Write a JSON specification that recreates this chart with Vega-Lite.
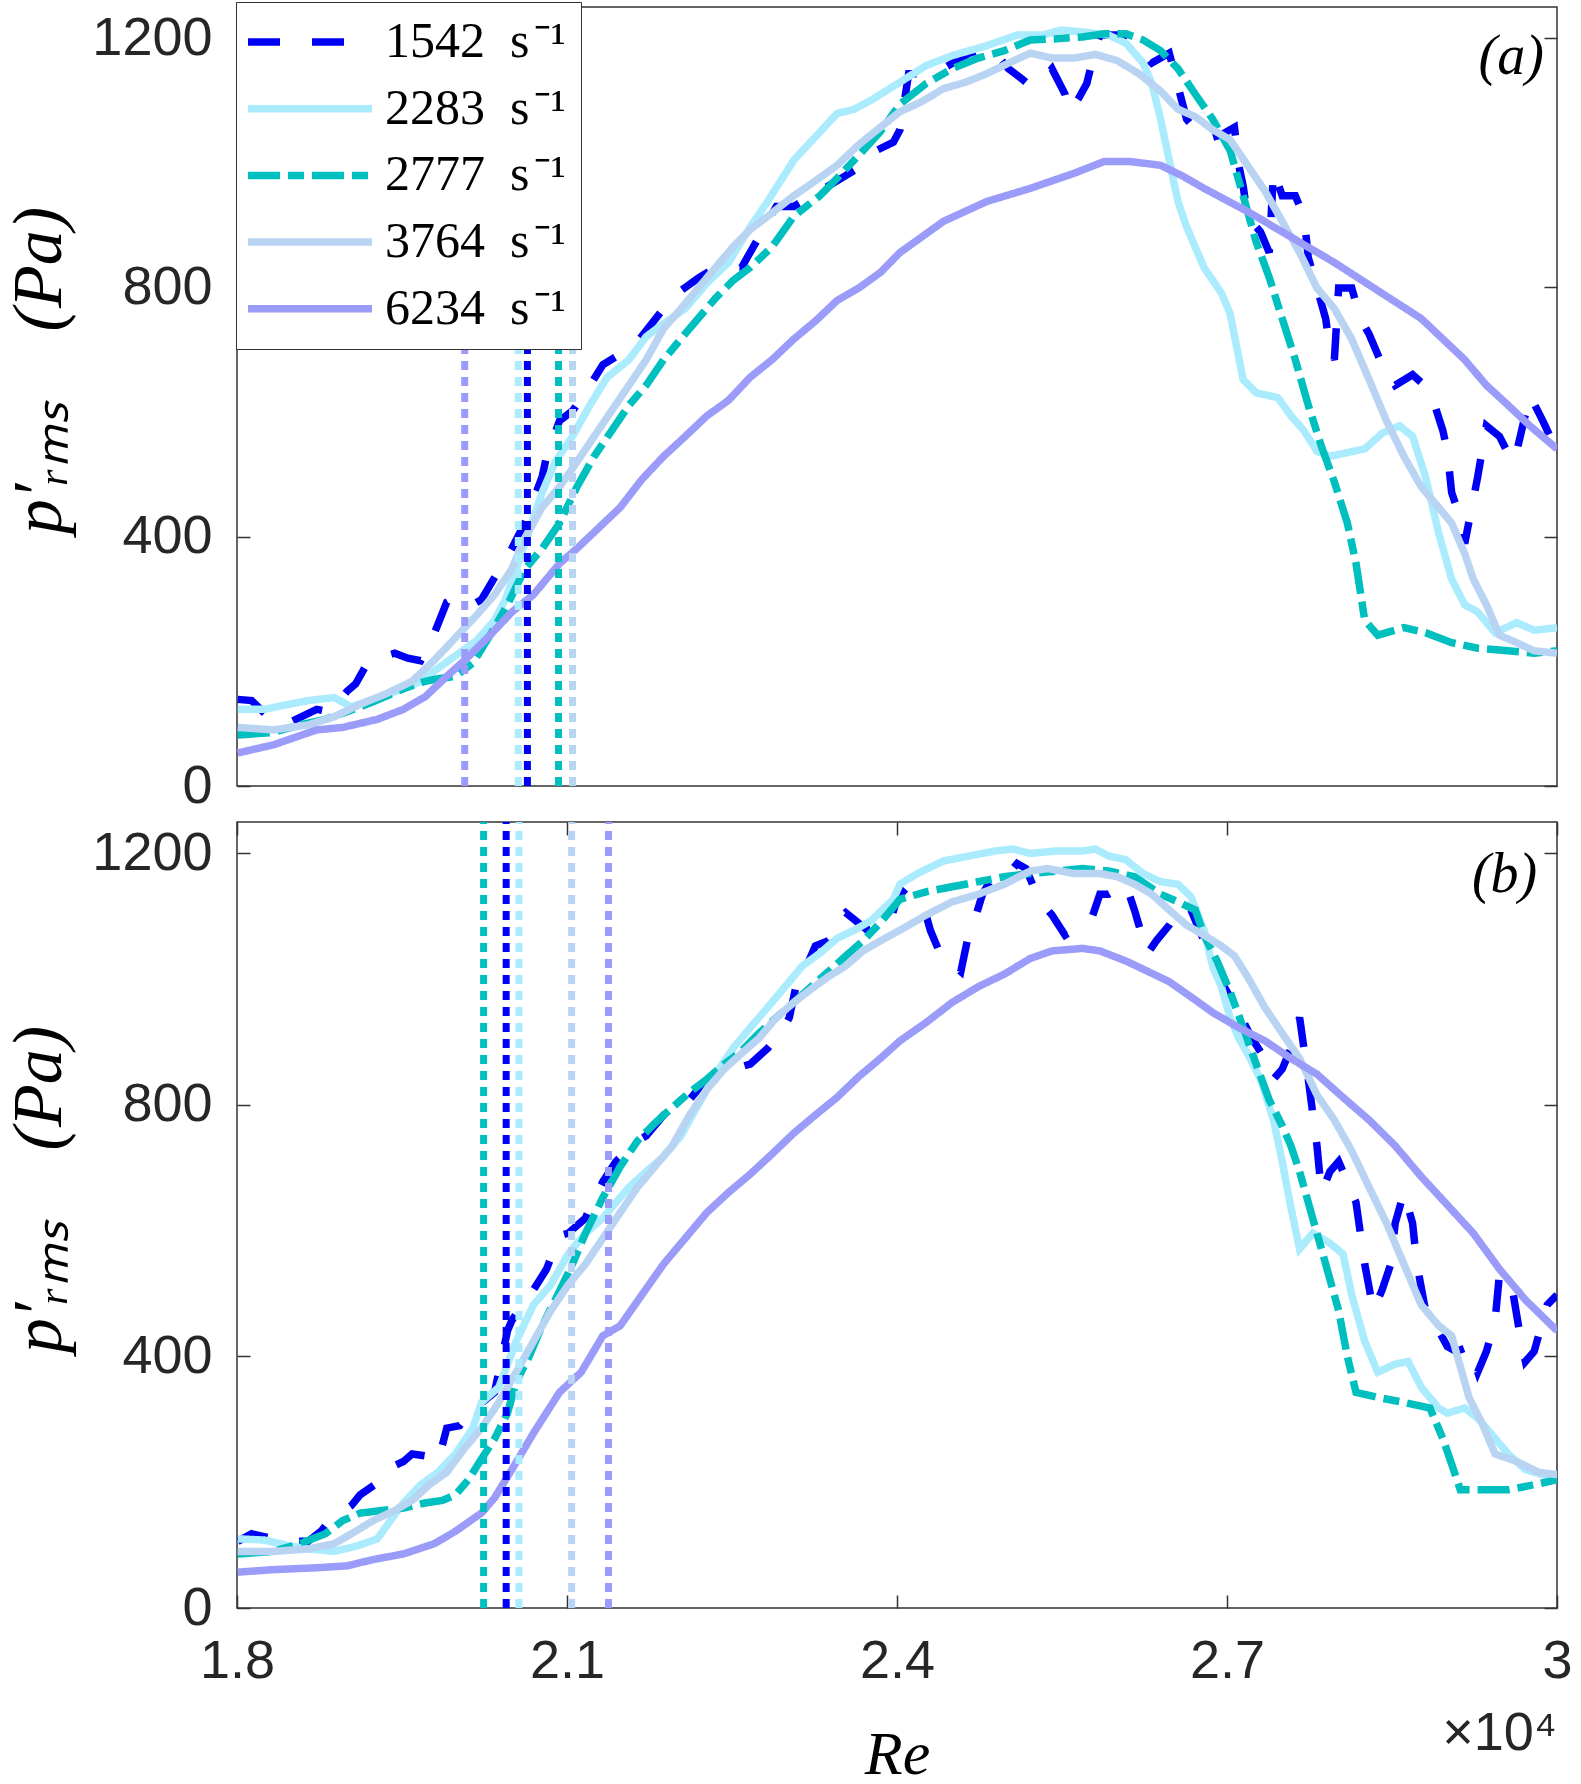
{
  "$schema": "https://vega.github.io/schema/vega-lite/v6.json",
  "background": "white",
  "padding": {"left": 4, "top": 0, "right": 10, "bottom": 0},
  "spacing": 3,
  "config": {
    "view": {"stroke": "#333333", "strokeWidth": 1.5},
    "axis": {
      "labelFont": "Liberation Sans", "labelFontSize": 54, "labelColor": "#262626", "format": "d",
      "tickColor": "#333333", "tickSize": -13, "tickWidth": 1.5, "domain": false, "grid": false,
      "labelFlush": false, "labelOverlap": false,
      "titleFont": "Liberation Serif", "titleFontStyle": "italic", "titleFontWeight": "normal", "titleColor": "black"
    },
    "legend": {
      "symbolType": "M-4,0L4,0", "symbolSize": 961, "symbolStrokeWidth": 7.5, "symbolOffset": 34,
      "labelFont": "Liberation Serif", "labelFontSize": 50, "labelColor": "black", "labelLimit": 0, "labelOffset": 50,
      "fillColor": "white", "strokeColor": "#333333", "padding": 15, "rowPadding": 16.7
    }
  },
  "datasets": {
    "a": [
      {"s":"1542 s⁻¹","Re":18007,"p":139},{"s":"1542 s⁻¹","Re":18133,"p":137},{"s":"1542 s⁻¹","Re":18330,"p":103},{"s":"1542 s⁻¹","Re":18488,"p":103},{"s":"1542 s⁻¹","Re":18724,"p":123},{"s":"1542 s⁻¹","Re":18843,"p":119},{"s":"1542 s⁻¹","Re":19000,"p":152},{"s":"1542 s⁻¹","Re":19079,"p":164},{"s":"1542 s⁻¹","Re":19197,"p":201},{"s":"1542 s⁻¹","Re":19276,"p":205},{"s":"1542 s⁻¹","Re":19434,"p":213},{"s":"1542 s⁻¹","Re":19552,"p":205},{"s":"1542 s⁻¹","Re":19670,"p":201},{"s":"1542 s⁻¹","Re":19749,"p":225},{"s":"1542 s⁻¹","Re":19907,"p":295},{"s":"1542 s⁻¹","Re":19986,"p":303},{"s":"1542 s⁻¹","Re":20144,"p":291},{"s":"1542 s⁻¹","Re":20222,"p":299},{"s":"1542 s⁻¹","Re":20498,"p":381},{"s":"1542 s⁻¹","Re":20617,"p":422},{"s":"1542 s⁻¹","Re":20774,"p":496},{"s":"1542 s⁻¹","Re":20814,"p":529},{"s":"1542 s⁻¹","Re":20932,"p":586},{"s":"1542 s⁻¹","Re":21050,"p":602},{"s":"1542 s⁻¹","Re":21168,"p":631},{"s":"1542 s⁻¹","Re":21326,"p":676},{"s":"1542 s⁻¹","Re":21484,"p":693},{"s":"1542 s⁻¹","Re":21641,"p":713},{"s":"1542 s⁻¹","Re":21878,"p":766},{"s":"1542 s⁻¹","Re":22036,"p":795},{"s":"1542 s⁻¹","Re":22193,"p":815},{"s":"1542 s⁻¹","Re":22351,"p":832},{"s":"1542 s⁻¹","Re":22587,"p":832},{"s":"1542 s⁻¹","Re":22745,"p":881},{"s":"1542 s⁻¹","Re":22903,"p":930},{"s":"1542 s⁻¹","Re":23061,"p":930},{"s":"1542 s⁻¹","Re":23258,"p":951},{"s":"1542 s⁻¹","Re":23455,"p":971},{"s":"1542 s⁻¹","Re":23612,"p":988},{"s":"1542 s⁻¹","Re":23770,"p":1016},{"s":"1542 s⁻¹","Re":23967,"p":1033},{"s":"1542 s⁻¹","Re":24027,"p":1053},{"s":"1542 s⁻¹","Re":24106,"p":1143},{"s":"1542 s⁻¹","Re":24264,"p":1143},{"s":"1542 s⁻¹","Re":24422,"p":1151},{"s":"1542 s⁻¹","Re":24580,"p":1168},{"s":"1542 s⁻¹","Re":24659,"p":1176},{"s":"1542 s⁻¹","Re":24817,"p":1184},{"s":"1542 s⁻¹","Re":24896,"p":1176},{"s":"1542 s⁻¹","Re":25014,"p":1151},{"s":"1542 s⁻¹","Re":25133,"p":1135},{"s":"1542 s⁻¹","Re":25212,"p":1123},{"s":"1542 s⁻¹","Re":25330,"p":1135},{"s":"1542 s⁻¹","Re":25409,"p":1151},{"s":"1542 s⁻¹","Re":25528,"p":1110},{"s":"1542 s⁻¹","Re":25567,"p":1082},{"s":"1542 s⁻¹","Re":25646,"p":1102},{"s":"1542 s⁻¹","Re":25725,"p":1127},{"s":"1542 s⁻¹","Re":25804,"p":1184},{"s":"1542 s⁻¹","Re":25844,"p":1205},{"s":"1542 s⁻¹","Re":26002,"p":1205},{"s":"1542 s⁻¹","Re":26159,"p":1192},{"s":"1542 s⁻¹","Re":26317,"p":1160},{"s":"1542 s⁻¹","Re":26396,"p":1168},{"s":"1542 s⁻¹","Re":26475,"p":1176},{"s":"1542 s⁻¹","Re":26633,"p":1070},{"s":"1542 s⁻¹","Re":26791,"p":1037},{"s":"1542 s⁻¹","Re":26949,"p":1045},{"s":"1542 s⁻¹","Re":27068,"p":1057},{"s":"1542 s⁻¹","Re":27107,"p":996},{"s":"1542 s⁻¹","Re":27147,"p":963},{"s":"1542 s⁻¹","Re":27186,"p":914},{"s":"1542 s⁻¹","Re":27305,"p":889},{"s":"1542 s⁻¹","Re":27384,"p":856},{"s":"1542 s⁻¹","Re":27423,"p":988},{"s":"1542 s⁻¹","Re":27502,"p":947},{"s":"1542 s⁻¹","Re":27621,"p":947},{"s":"1542 s⁻¹","Re":27700,"p":914},{"s":"1542 s⁻¹","Re":27739,"p":848},{"s":"1542 s⁻¹","Re":27818,"p":799},{"s":"1542 s⁻¹","Re":27897,"p":750},{"s":"1542 s⁻¹","Re":27936,"p":701},{"s":"1542 s⁻¹","Re":27976,"p":684},{"s":"1542 s⁻¹","Re":28015,"p":799},{"s":"1542 s⁻¹","Re":28134,"p":799},{"s":"1542 s⁻¹","Re":28213,"p":750},{"s":"1542 s⁻¹","Re":28292,"p":725},{"s":"1542 s⁻¹","Re":28410,"p":676},{"s":"1542 s⁻¹","Re":28529,"p":643},{"s":"1542 s⁻¹","Re":28687,"p":660},{"s":"1542 s⁻¹","Re":28845,"p":635},{"s":"1542 s⁻¹","Re":28963,"p":570},{"s":"1542 s⁻¹","Re":29003,"p":537},{"s":"1542 s⁻¹","Re":29042,"p":471},{"s":"1542 s⁻¹","Re":29121,"p":430},{"s":"1542 s⁻¹","Re":29161,"p":389},{"s":"1542 s⁻¹","Re":29279,"p":496},{"s":"1542 s⁻¹","Re":29358,"p":578},{"s":"1542 s⁻¹","Re":29477,"p":561},{"s":"1542 s⁻¹","Re":29595,"p":520},{"s":"1542 s⁻¹","Re":29634,"p":537},{"s":"1542 s⁻¹","Re":29753,"p":627},{"s":"1542 s⁻¹","Re":29871,"p":586},{"s":"1542 s⁻¹","Re":30000,"p":537},
      {"s":"2283 s⁻¹","Re":18007,"p":123},{"s":"2283 s⁻¹","Re":18251,"p":123},{"s":"2283 s⁻¹","Re":18409,"p":129},{"s":"2283 s⁻¹","Re":18646,"p":137},{"s":"2283 s⁻¹","Re":18882,"p":142},{"s":"2283 s⁻¹","Re":19040,"p":127},{"s":"2283 s⁻¹","Re":19237,"p":139},{"s":"2283 s⁻¹","Re":19513,"p":156},{"s":"2283 s⁻¹","Re":19670,"p":168},{"s":"2283 s⁻¹","Re":19828,"p":189},{"s":"2283 s⁻¹","Re":19986,"p":209},{"s":"2283 s⁻¹","Re":20183,"p":234},{"s":"2283 s⁻¹","Re":20341,"p":266},{"s":"2283 s⁻¹","Re":20439,"p":299},{"s":"2283 s⁻¹","Re":20538,"p":348},{"s":"2283 s⁻¹","Re":20617,"p":389},{"s":"2283 s⁻¹","Re":20695,"p":430},{"s":"2283 s⁻¹","Re":20774,"p":471},{"s":"2283 s⁻¹","Re":20893,"p":520},{"s":"2283 s⁻¹","Re":21050,"p":561},{"s":"2283 s⁻¹","Re":21208,"p":611},{"s":"2283 s⁻¹","Re":21366,"p":656},{"s":"2283 s⁻¹","Re":21563,"p":684},{"s":"2283 s⁻¹","Re":21720,"p":721},{"s":"2283 s⁻¹","Re":21878,"p":742},{"s":"2283 s⁻¹","Re":22075,"p":766},{"s":"2283 s⁻¹","Re":22272,"p":807},{"s":"2283 s⁻¹","Re":22469,"p":840},{"s":"2283 s⁻¹","Re":22666,"p":897},{"s":"2283 s⁻¹","Re":22824,"p":938},{"s":"2283 s⁻¹","Re":23061,"p":1004},{"s":"2283 s⁻¹","Re":23297,"p":1049},{"s":"2283 s⁻¹","Re":23455,"p":1079},{"s":"2283 s⁻¹","Re":23612,"p":1086},{"s":"2283 s⁻¹","Re":23770,"p":1101},{"s":"2283 s⁻¹","Re":24006,"p":1127},{"s":"2283 s⁻¹","Re":24264,"p":1156},{"s":"2283 s⁻¹","Re":24501,"p":1172},{"s":"2283 s⁻¹","Re":24817,"p":1188},{"s":"2283 s⁻¹","Re":25093,"p":1205},{"s":"2283 s⁻¹","Re":25330,"p":1205},{"s":"2283 s⁻¹","Re":25488,"p":1213},{"s":"2283 s⁻¹","Re":25686,"p":1210},{"s":"2283 s⁻¹","Re":25922,"p":1205},{"s":"2283 s⁻¹","Re":26080,"p":1192},{"s":"2283 s⁻¹","Re":26238,"p":1160},{"s":"2283 s⁻¹","Re":26317,"p":1127},{"s":"2283 s⁻¹","Re":26396,"p":1070},{"s":"2283 s⁻¹","Re":26475,"p":1004},{"s":"2283 s⁻¹","Re":26554,"p":938},{"s":"2283 s⁻¹","Re":26633,"p":897},{"s":"2283 s⁻¹","Re":26791,"p":832},{"s":"2283 s⁻¹","Re":26949,"p":791},{"s":"2283 s⁻¹","Re":27028,"p":758},{"s":"2283 s⁻¹","Re":27147,"p":652},{"s":"2283 s⁻¹","Re":27265,"p":631},{"s":"2283 s⁻¹","Re":27463,"p":623},{"s":"2283 s⁻¹","Re":27581,"p":594},{"s":"2283 s⁻¹","Re":27700,"p":570},{"s":"2283 s⁻¹","Re":27818,"p":537},{"s":"2283 s⁻¹","Re":27936,"p":529},{"s":"2283 s⁻¹","Re":28252,"p":541},{"s":"2283 s⁻¹","Re":28410,"p":566},{"s":"2283 s⁻¹","Re":28568,"p":578},{"s":"2283 s⁻¹","Re":28687,"p":561},{"s":"2283 s⁻¹","Re":28805,"p":496},{"s":"2283 s⁻¹","Re":28924,"p":406},{"s":"2283 s⁻¹","Re":29042,"p":332},{"s":"2283 s⁻¹","Re":29161,"p":291},{"s":"2283 s⁻¹","Re":29279,"p":279},{"s":"2283 s⁻¹","Re":29437,"p":246},{"s":"2283 s⁻¹","Re":29634,"p":262},{"s":"2283 s⁻¹","Re":29792,"p":250},{"s":"2283 s⁻¹","Re":30000,"p":254},
      {"s":"2777 s⁻¹","Re":18007,"p":82},{"s":"2777 s⁻¹","Re":18330,"p":86},{"s":"2777 s⁻¹","Re":18567,"p":98},{"s":"2777 s⁻¹","Re":18803,"p":107},{"s":"2777 s⁻¹","Re":19000,"p":119},{"s":"2777 s⁻¹","Re":19237,"p":135},{"s":"2777 s⁻¹","Re":19513,"p":156},{"s":"2777 s⁻¹","Re":19710,"p":168},{"s":"2777 s⁻¹","Re":19828,"p":172},{"s":"2777 s⁻¹","Re":19986,"p":176},{"s":"2777 s⁻¹","Re":20144,"p":197},{"s":"2777 s⁻¹","Re":20301,"p":242},{"s":"2777 s⁻¹","Re":20459,"p":291},{"s":"2777 s⁻¹","Re":20617,"p":348},{"s":"2777 s⁻¹","Re":20774,"p":381},{"s":"2777 s⁻¹","Re":20932,"p":422},{"s":"2777 s⁻¹","Re":21090,"p":480},{"s":"2777 s⁻¹","Re":21247,"p":529},{"s":"2777 s⁻¹","Re":21405,"p":570},{"s":"2777 s⁻¹","Re":21563,"p":611},{"s":"2777 s⁻¹","Re":21720,"p":643},{"s":"2777 s⁻¹","Re":21878,"p":684},{"s":"2777 s⁻¹","Re":22114,"p":734},{"s":"2777 s⁻¹","Re":22351,"p":783},{"s":"2777 s⁻¹","Re":22509,"p":811},{"s":"2777 s⁻¹","Re":22666,"p":832},{"s":"2777 s⁻¹","Re":22864,"p":865},{"s":"2777 s⁻¹","Re":23061,"p":914},{"s":"2777 s⁻¹","Re":23297,"p":947},{"s":"2777 s⁻¹","Re":23455,"p":975},{"s":"2777 s⁻¹","Re":23652,"p":1012},{"s":"2777 s⁻¹","Re":23849,"p":1050},{"s":"2777 s⁻¹","Re":24027,"p":1094},{"s":"2777 s⁻¹","Re":24264,"p":1127},{"s":"2777 s⁻¹","Re":24501,"p":1151},{"s":"2777 s⁻¹","Re":24738,"p":1168},{"s":"2777 s⁻¹","Re":24975,"p":1180},{"s":"2777 s⁻¹","Re":25212,"p":1197},{"s":"2777 s⁻¹","Re":25449,"p":1199},{"s":"2777 s⁻¹","Re":25686,"p":1202},{"s":"2777 s⁻¹","Re":25883,"p":1207},{"s":"2777 s⁻¹","Re":26080,"p":1207},{"s":"2777 s⁻¹","Re":26238,"p":1197},{"s":"2777 s⁻¹","Re":26396,"p":1180},{"s":"2777 s⁻¹","Re":26554,"p":1151},{"s":"2777 s⁻¹","Re":26712,"p":1110},{"s":"2777 s⁻¹","Re":26870,"p":1070},{"s":"2777 s⁻¹","Re":27028,"p":1020},{"s":"2777 s⁻¹","Re":27147,"p":947},{"s":"2777 s⁻¹","Re":27265,"p":873},{"s":"2777 s⁻¹","Re":27384,"p":816},{"s":"2777 s⁻¹","Re":27502,"p":750},{"s":"2777 s⁻¹","Re":27621,"p":684},{"s":"2777 s⁻¹","Re":27739,"p":611},{"s":"2777 s⁻¹","Re":27858,"p":545},{"s":"2777 s⁻¹","Re":27976,"p":488},{"s":"2777 s⁻¹","Re":28094,"p":422},{"s":"2777 s⁻¹","Re":28173,"p":357},{"s":"2777 s⁻¹","Re":28252,"p":266},{"s":"2777 s⁻¹","Re":28371,"p":242},{"s":"2777 s⁻¹","Re":28608,"p":254},{"s":"2777 s⁻¹","Re":28805,"p":246},{"s":"2777 s⁻¹","Re":29042,"p":230},{"s":"2777 s⁻¹","Re":29279,"p":221},{"s":"2777 s⁻¹","Re":29556,"p":217},{"s":"2777 s⁻¹","Re":29792,"p":213},{"s":"2777 s⁻¹","Re":30000,"p":217},
      {"s":"3764 s⁻¹","Re":18007,"p":94},{"s":"3764 s⁻¹","Re":18330,"p":90},{"s":"3764 s⁻¹","Re":18646,"p":98},{"s":"3764 s⁻¹","Re":18882,"p":111},{"s":"3764 s⁻¹","Re":19119,"p":131},{"s":"3764 s⁻¹","Re":19355,"p":148},{"s":"3764 s⁻¹","Re":19592,"p":168},{"s":"3764 s⁻¹","Re":19789,"p":201},{"s":"3764 s⁻¹","Re":19986,"p":238},{"s":"3764 s⁻¹","Re":20183,"p":275},{"s":"3764 s⁻¹","Re":20341,"p":307},{"s":"3764 s⁻¹","Re":20498,"p":348},{"s":"3764 s⁻¹","Re":20617,"p":398},{"s":"3764 s⁻¹","Re":20774,"p":447},{"s":"3764 s⁻¹","Re":20932,"p":480},{"s":"3764 s⁻¹","Re":21090,"p":520},{"s":"3764 s⁻¹","Re":21247,"p":561},{"s":"3764 s⁻¹","Re":21405,"p":602},{"s":"3764 s⁻¹","Re":21563,"p":643},{"s":"3764 s⁻¹","Re":21720,"p":684},{"s":"3764 s⁻¹","Re":21878,"p":734},{"s":"3764 s⁻¹","Re":22036,"p":766},{"s":"3764 s⁻¹","Re":22193,"p":799},{"s":"3764 s⁻¹","Re":22351,"p":832},{"s":"3764 s⁻¹","Re":22509,"p":865},{"s":"3764 s⁻¹","Re":22666,"p":893},{"s":"3764 s⁻¹","Re":22824,"p":914},{"s":"3764 s⁻¹","Re":23061,"p":947},{"s":"3764 s⁻¹","Re":23258,"p":971},{"s":"3764 s⁻¹","Re":23455,"p":996},{"s":"3764 s⁻¹","Re":23652,"p":1029},{"s":"3764 s⁻¹","Re":23849,"p":1057},{"s":"3764 s⁻¹","Re":24027,"p":1082},{"s":"3764 s⁻¹","Re":24224,"p":1098},{"s":"3764 s⁻¹","Re":24422,"p":1119},{"s":"3764 s⁻¹","Re":24619,"p":1129},{"s":"3764 s⁻¹","Re":24817,"p":1143},{"s":"3764 s⁻¹","Re":25014,"p":1160},{"s":"3764 s⁻¹","Re":25212,"p":1176},{"s":"3764 s⁻¹","Re":25409,"p":1168},{"s":"3764 s⁻¹","Re":25607,"p":1168},{"s":"3764 s⁻¹","Re":25804,"p":1174},{"s":"3764 s⁻¹","Re":26002,"p":1164},{"s":"3764 s⁻¹","Re":26199,"p":1143},{"s":"3764 s⁻¹","Re":26396,"p":1115},{"s":"3764 s⁻¹","Re":26554,"p":1086},{"s":"3764 s⁻¹","Re":26712,"p":1074},{"s":"3764 s⁻¹","Re":26870,"p":1053},{"s":"3764 s⁻¹","Re":27028,"p":1037},{"s":"3764 s⁻¹","Re":27186,"p":996},{"s":"3764 s⁻¹","Re":27344,"p":955},{"s":"3764 s⁻¹","Re":27502,"p":906},{"s":"3764 s⁻¹","Re":27660,"p":856},{"s":"3764 s⁻¹","Re":27818,"p":799},{"s":"3764 s⁻¹","Re":27976,"p":766},{"s":"3764 s⁻¹","Re":28134,"p":717},{"s":"3764 s⁻¹","Re":28292,"p":652},{"s":"3764 s⁻¹","Re":28450,"p":586},{"s":"3764 s⁻¹","Re":28608,"p":529},{"s":"3764 s⁻¹","Re":28766,"p":480},{"s":"3764 s⁻¹","Re":28924,"p":447},{"s":"3764 s⁻¹","Re":29042,"p":422},{"s":"3764 s⁻¹","Re":29161,"p":373},{"s":"3764 s⁻¹","Re":29239,"p":332},{"s":"3764 s⁻¹","Re":29358,"p":291},{"s":"3764 s⁻¹","Re":29477,"p":242},{"s":"3764 s⁻¹","Re":29634,"p":230},{"s":"3764 s⁻¹","Re":29792,"p":217},{"s":"3764 s⁻¹","Re":30000,"p":213},
      {"s":"6234 s⁻¹","Re":18007,"p":53},{"s":"6234 s⁻¹","Re":18330,"p":66},{"s":"6234 s⁻¹","Re":18724,"p":90},{"s":"6234 s⁻¹","Re":18961,"p":94},{"s":"6234 s⁻¹","Re":19276,"p":107},{"s":"6234 s⁻¹","Re":19513,"p":123},{"s":"6234 s⁻¹","Re":19710,"p":143},{"s":"6234 s⁻¹","Re":19907,"p":176},{"s":"6234 s⁻¹","Re":20065,"p":201},{"s":"6234 s⁻¹","Re":20301,"p":242},{"s":"6234 s⁻¹","Re":20498,"p":279},{"s":"6234 s⁻¹","Re":20695,"p":307},{"s":"6234 s⁻¹","Re":20932,"p":357},{"s":"6234 s⁻¹","Re":21090,"p":381},{"s":"6234 s⁻¹","Re":21287,"p":414},{"s":"6234 s⁻¹","Re":21484,"p":447},{"s":"6234 s⁻¹","Re":21681,"p":492},{"s":"6234 s⁻¹","Re":21878,"p":529},{"s":"6234 s⁻¹","Re":22075,"p":561},{"s":"6234 s⁻¹","Re":22272,"p":594},{"s":"6234 s⁻¹","Re":22469,"p":619},{"s":"6234 s⁻¹","Re":22666,"p":656},{"s":"6234 s⁻¹","Re":22864,"p":684},{"s":"6234 s⁻¹","Re":23061,"p":717},{"s":"6234 s⁻¹","Re":23258,"p":746},{"s":"6234 s⁻¹","Re":23455,"p":779},{"s":"6234 s⁻¹","Re":23652,"p":799},{"s":"6234 s⁻¹","Re":23849,"p":824},{"s":"6234 s⁻¹","Re":24027,"p":856},{"s":"6234 s⁻¹","Re":24422,"p":906},{"s":"6234 s⁻¹","Re":24817,"p":938},{"s":"6234 s⁻¹","Re":25212,"p":959},{"s":"6234 s⁻¹","Re":25607,"p":983},{"s":"6234 s⁻¹","Re":25883,"p":1002},{"s":"6234 s⁻¹","Re":26120,"p":1002},{"s":"6234 s⁻¹","Re":26396,"p":996},{"s":"6234 s⁻¹","Re":26594,"p":979},{"s":"6234 s⁻¹","Re":26791,"p":959},{"s":"6234 s⁻¹","Re":27186,"p":922},{"s":"6234 s⁻¹","Re":27581,"p":881},{"s":"6234 s⁻¹","Re":27976,"p":840},{"s":"6234 s⁻¹","Re":28371,"p":795},{"s":"6234 s⁻¹","Re":28766,"p":750},{"s":"6234 s⁻¹","Re":28963,"p":717},{"s":"6234 s⁻¹","Re":29161,"p":684},{"s":"6234 s⁻¹","Re":29358,"p":643},{"s":"6234 s⁻¹","Re":29556,"p":611},{"s":"6234 s⁻¹","Re":29753,"p":578},{"s":"6234 s⁻¹","Re":30000,"p":541}
    ],
    "b": [
      {"s":"1542 s⁻¹","Re":18007,"p":106},{"s":"1542 s⁻¹","Re":18133,"p":118},{"s":"1542 s⁻¹","Re":18330,"p":110},{"s":"1542 s⁻¹","Re":18488,"p":106},{"s":"1542 s⁻¹","Re":18646,"p":106},{"s":"1542 s⁻¹","Re":18764,"p":122},{"s":"1542 s⁻¹","Re":18843,"p":139},{"s":"1542 s⁻¹","Re":19040,"p":163},{"s":"1542 s⁻¹","Re":19119,"p":180},{"s":"1542 s⁻¹","Re":19316,"p":204},{"s":"1542 s⁻¹","Re":19355,"p":220},{"s":"1542 s⁻¹","Re":19513,"p":233},{"s":"1542 s⁻¹","Re":19592,"p":245},{"s":"1542 s⁻¹","Re":19749,"p":241},{"s":"1542 s⁻¹","Re":19828,"p":233},{"s":"1542 s⁻¹","Re":19907,"p":286},{"s":"1542 s⁻¹","Re":20025,"p":290},{"s":"1542 s⁻¹","Re":20144,"p":318},{"s":"1542 s⁻¹","Re":20222,"p":326},{"s":"1542 s⁻¹","Re":20341,"p":343},{"s":"1542 s⁻¹","Re":20459,"p":441},{"s":"1542 s⁻¹","Re":20498,"p":457},{"s":"1542 s⁻¹","Re":20617,"p":490},{"s":"1542 s⁻¹","Re":20695,"p":506},{"s":"1542 s⁻¹","Re":20814,"p":539},{"s":"1542 s⁻¹","Re":20932,"p":592},{"s":"1542 s⁻¹","Re":21011,"p":596},{"s":"1542 s⁻¹","Re":21168,"p":620},{"s":"1542 s⁻¹","Re":21208,"p":637},{"s":"1542 s⁻¹","Re":21326,"p":678},{"s":"1542 s⁻¹","Re":21444,"p":710},{"s":"1542 s⁻¹","Re":21641,"p":743},{"s":"1542 s⁻¹","Re":21720,"p":751},{"s":"1542 s⁻¹","Re":21878,"p":784},{"s":"1542 s⁻¹","Re":22036,"p":792},{"s":"1542 s⁻¹","Re":22193,"p":825},{"s":"1542 s⁻¹","Re":22351,"p":841},{"s":"1542 s⁻¹","Re":22509,"p":857},{"s":"1542 s⁻¹","Re":22666,"p":865},{"s":"1542 s⁻¹","Re":22824,"p":890},{"s":"1542 s⁻¹","Re":22942,"p":914},{"s":"1542 s⁻¹","Re":23021,"p":939},{"s":"1542 s⁻¹","Re":23100,"p":1004},{"s":"1542 s⁻¹","Re":23179,"p":1021},{"s":"1542 s⁻¹","Re":23258,"p":1053},{"s":"1542 s⁻¹","Re":23376,"p":1061},{"s":"1542 s⁻¹","Re":23455,"p":1094},{"s":"1542 s⁻¹","Re":23533,"p":1106},{"s":"1542 s⁻¹","Re":23731,"p":1078},{"s":"1542 s⁻¹","Re":23928,"p":1086},{"s":"1542 s⁻¹","Re":24027,"p":1143},{"s":"1542 s⁻¹","Re":24185,"p":1119},{"s":"1542 s⁻¹","Re":24264,"p":1102},{"s":"1542 s⁻¹","Re":24303,"p":1078},{"s":"1542 s⁻¹","Re":24382,"p":1045},{"s":"1542 s⁻¹","Re":24461,"p":1029},{"s":"1542 s⁻¹","Re":24580,"p":1012},{"s":"1542 s⁻¹","Re":24659,"p":1078},{"s":"1542 s⁻¹","Re":24698,"p":1090},{"s":"1542 s⁻¹","Re":24777,"p":1135},{"s":"1542 s⁻¹","Re":24856,"p":1159},{"s":"1542 s⁻¹","Re":24975,"p":1159},{"s":"1542 s⁻¹","Re":25093,"p":1184},{"s":"1542 s⁻¹","Re":25172,"p":1176},{"s":"1542 s⁻¹","Re":25251,"p":1143},{"s":"1542 s⁻¹","Re":25330,"p":1119},{"s":"1542 s⁻¹","Re":25409,"p":1102},{"s":"1542 s⁻¹","Re":25528,"p":1070},{"s":"1542 s⁻¹","Re":25607,"p":1078},{"s":"1542 s⁻¹","Re":25686,"p":1086},{"s":"1542 s⁻¹","Re":25765,"p":1094},{"s":"1542 s⁻¹","Re":25844,"p":1135},{"s":"1542 s⁻¹","Re":25922,"p":1135},{"s":"1542 s⁻¹","Re":26080,"p":1151},{"s":"1542 s⁻¹","Re":26159,"p":1110},{"s":"1542 s⁻¹","Re":26199,"p":1086},{"s":"1542 s⁻¹","Re":26278,"p":1041},{"s":"1542 s⁻¹","Re":26357,"p":1061},{"s":"1542 s⁻¹","Re":26475,"p":1086},{"s":"1542 s⁻¹","Re":26594,"p":1119},{"s":"1542 s⁻¹","Re":26673,"p":1110},{"s":"1542 s⁻¹","Re":26791,"p":1061},{"s":"1542 s⁻¹","Re":26949,"p":996},{"s":"1542 s⁻¹","Re":27107,"p":947},{"s":"1542 s⁻¹","Re":27226,"p":906},{"s":"1542 s⁻¹","Re":27344,"p":874},{"s":"1542 s⁻¹","Re":27423,"p":841},{"s":"1542 s⁻¹","Re":27502,"p":857},{"s":"1542 s⁻¹","Re":27581,"p":890},{"s":"1542 s⁻¹","Re":27660,"p":939},{"s":"1542 s⁻¹","Re":27739,"p":841},{"s":"1542 s⁻¹","Re":27818,"p":735},{"s":"1542 s⁻¹","Re":27858,"p":661},{"s":"1542 s⁻¹","Re":27936,"p":694},{"s":"1542 s⁻¹","Re":28015,"p":710},{"s":"1542 s⁻¹","Re":28094,"p":678},{"s":"1542 s⁻¹","Re":28173,"p":645},{"s":"1542 s⁻¹","Re":28252,"p":547},{"s":"1542 s⁻¹","Re":28331,"p":473},{"s":"1542 s⁻¹","Re":28410,"p":506},{"s":"1542 s⁻¹","Re":28489,"p":547},{"s":"1542 s⁻¹","Re":28529,"p":612},{"s":"1542 s⁻¹","Re":28608,"p":661},{"s":"1542 s⁻¹","Re":28687,"p":612},{"s":"1542 s⁻¹","Re":28726,"p":547},{"s":"1542 s⁻¹","Re":28805,"p":473},{"s":"1542 s⁻¹","Re":28924,"p":441},{"s":"1542 s⁻¹","Re":29003,"p":416},{"s":"1542 s⁻¹","Re":29082,"p":408},{"s":"1542 s⁻¹","Re":29200,"p":416},{"s":"1542 s⁻¹","Re":29279,"p":375},{"s":"1542 s⁻¹","Re":29358,"p":408},{"s":"1542 s⁻¹","Re":29437,"p":457},{"s":"1542 s⁻¹","Re":29477,"p":531},{"s":"1542 s⁻¹","Re":29595,"p":506},{"s":"1542 s⁻¹","Re":29674,"p":424},{"s":"1542 s⁻¹","Re":29713,"p":392},{"s":"1542 s⁻¹","Re":29792,"p":408},{"s":"1542 s⁻¹","Re":29911,"p":482},{"s":"1542 s⁻¹","Re":30000,"p":498},
      {"s":"2283 s⁻¹","Re":18007,"p":110},{"s":"2283 s⁻¹","Re":18251,"p":108},{"s":"2283 s⁻¹","Re":18448,"p":100},{"s":"2283 s⁻¹","Re":18646,"p":94},{"s":"2283 s⁻¹","Re":18882,"p":90},{"s":"2283 s⁻¹","Re":19079,"p":98},{"s":"2283 s⁻¹","Re":19276,"p":110},{"s":"2283 s⁻¹","Re":19395,"p":139},{"s":"2283 s⁻¹","Re":19513,"p":167},{"s":"2283 s⁻¹","Re":19670,"p":196},{"s":"2283 s⁻¹","Re":19828,"p":216},{"s":"2283 s⁻¹","Re":19986,"p":245},{"s":"2283 s⁻¹","Re":20144,"p":286},{"s":"2283 s⁻¹","Re":20222,"p":327},{"s":"2283 s⁻¹","Re":20380,"p":351},{"s":"2283 s⁻¹","Re":20538,"p":424},{"s":"2283 s⁻¹","Re":20695,"p":482},{"s":"2283 s⁻¹","Re":20853,"p":514},{"s":"2283 s⁻¹","Re":21011,"p":563},{"s":"2283 s⁻¹","Re":21168,"p":596},{"s":"2283 s⁻¹","Re":21326,"p":620},{"s":"2283 s⁻¹","Re":21405,"p":637},{"s":"2283 s⁻¹","Re":21563,"p":669},{"s":"2283 s⁻¹","Re":21720,"p":694},{"s":"2283 s⁻¹","Re":21878,"p":718},{"s":"2283 s⁻¹","Re":22036,"p":751},{"s":"2283 s⁻¹","Re":22193,"p":800},{"s":"2283 s⁻¹","Re":22351,"p":849},{"s":"2283 s⁻¹","Re":22509,"p":890},{"s":"2283 s⁻¹","Re":22666,"p":923},{"s":"2283 s⁻¹","Re":22824,"p":955},{"s":"2283 s⁻¹","Re":22982,"p":988},{"s":"2283 s⁻¹","Re":23139,"p":1021},{"s":"2283 s⁻¹","Re":23297,"p":1041},{"s":"2283 s⁻¹","Re":23455,"p":1065},{"s":"2283 s⁻¹","Re":23612,"p":1078},{"s":"2283 s⁻¹","Re":23770,"p":1094},{"s":"2283 s⁻¹","Re":23967,"p":1127},{"s":"2283 s⁻¹","Re":24027,"p":1151},{"s":"2283 s⁻¹","Re":24185,"p":1168},{"s":"2283 s⁻¹","Re":24422,"p":1188},{"s":"2283 s⁻¹","Re":24659,"p":1196},{"s":"2283 s⁻¹","Re":24896,"p":1204},{"s":"2283 s⁻¹","Re":25054,"p":1207},{"s":"2283 s⁻¹","Re":25212,"p":1200},{"s":"2283 s⁻¹","Re":25449,"p":1204},{"s":"2283 s⁻¹","Re":25686,"p":1204},{"s":"2283 s⁻¹","Re":25804,"p":1207},{"s":"2283 s⁻¹","Re":25922,"p":1196},{"s":"2283 s⁻¹","Re":26080,"p":1190},{"s":"2283 s⁻¹","Re":26238,"p":1168},{"s":"2283 s⁻¹","Re":26396,"p":1155},{"s":"2283 s⁻¹","Re":26554,"p":1151},{"s":"2283 s⁻¹","Re":26673,"p":1131},{"s":"2283 s⁻¹","Re":26791,"p":1078},{"s":"2283 s⁻¹","Re":26870,"p":1020},{"s":"2283 s⁻¹","Re":26949,"p":988},{"s":"2283 s⁻¹","Re":27028,"p":939},{"s":"2283 s⁻¹","Re":27107,"p":906},{"s":"2283 s⁻¹","Re":27186,"p":882},{"s":"2283 s⁻¹","Re":27305,"p":841},{"s":"2283 s⁻¹","Re":27423,"p":776},{"s":"2283 s⁻¹","Re":27502,"p":710},{"s":"2283 s⁻¹","Re":27581,"p":637},{"s":"2283 s⁻¹","Re":27660,"p":571},{"s":"2283 s⁻¹","Re":27779,"p":596},{"s":"2283 s⁻¹","Re":27936,"p":580},{"s":"2283 s⁻¹","Re":28055,"p":563},{"s":"2283 s⁻¹","Re":28134,"p":498},{"s":"2283 s⁻¹","Re":28252,"p":424},{"s":"2283 s⁻¹","Re":28371,"p":375},{"s":"2283 s⁻¹","Re":28529,"p":388},{"s":"2283 s⁻¹","Re":28647,"p":392},{"s":"2283 s⁻¹","Re":28766,"p":351},{"s":"2283 s⁻¹","Re":28924,"p":318},{"s":"2283 s⁻¹","Re":29003,"p":310},{"s":"2283 s⁻¹","Re":29161,"p":318},{"s":"2283 s⁻¹","Re":29279,"p":302},{"s":"2283 s⁻¹","Re":29398,"p":278},{"s":"2283 s⁻¹","Re":29556,"p":245},{"s":"2283 s⁻¹","Re":29713,"p":220},{"s":"2283 s⁻¹","Re":29871,"p":212},{"s":"2283 s⁻¹","Re":30000,"p":212},
      {"s":"2777 s⁻¹","Re":18007,"p":86},{"s":"2777 s⁻¹","Re":18330,"p":90},{"s":"2777 s⁻¹","Re":18567,"p":102},{"s":"2777 s⁻¹","Re":18803,"p":118},{"s":"2777 s⁻¹","Re":18961,"p":139},{"s":"2777 s⁻¹","Re":19119,"p":151},{"s":"2777 s⁻¹","Re":19316,"p":155},{"s":"2777 s⁻¹","Re":19513,"p":159},{"s":"2777 s⁻¹","Re":19710,"p":167},{"s":"2777 s⁻¹","Re":19868,"p":171},{"s":"2777 s⁻¹","Re":19986,"p":180},{"s":"2777 s⁻¹","Re":20104,"p":204},{"s":"2777 s⁻¹","Re":20222,"p":237},{"s":"2777 s⁻¹","Re":20341,"p":269},{"s":"2777 s⁻¹","Re":20459,"p":310},{"s":"2777 s⁻¹","Re":20538,"p":359},{"s":"2777 s⁻¹","Re":20656,"p":400},{"s":"2777 s⁻¹","Re":20774,"p":449},{"s":"2777 s⁻¹","Re":20893,"p":490},{"s":"2777 s⁻¹","Re":21050,"p":547},{"s":"2777 s⁻¹","Re":21168,"p":596},{"s":"2777 s⁻¹","Re":21326,"p":653},{"s":"2777 s⁻¹","Re":21484,"p":702},{"s":"2777 s⁻¹","Re":21641,"p":743},{"s":"2777 s⁻¹","Re":21799,"p":771},{"s":"2777 s⁻¹","Re":21957,"p":796},{"s":"2777 s⁻¹","Re":22114,"p":820},{"s":"2777 s⁻¹","Re":22272,"p":841},{"s":"2777 s⁻¹","Re":22430,"p":865},{"s":"2777 s⁻¹","Re":22587,"p":886},{"s":"2777 s⁻¹","Re":22745,"p":914},{"s":"2777 s⁻¹","Re":22903,"p":939},{"s":"2777 s⁻¹","Re":23061,"p":963},{"s":"2777 s⁻¹","Re":23218,"p":988},{"s":"2777 s⁻¹","Re":23376,"p":1012},{"s":"2777 s⁻¹","Re":23533,"p":1037},{"s":"2777 s⁻¹","Re":23691,"p":1061},{"s":"2777 s⁻¹","Re":23849,"p":1090},{"s":"2777 s⁻¹","Re":24027,"p":1127},{"s":"2777 s⁻¹","Re":24264,"p":1139},{"s":"2777 s⁻¹","Re":24501,"p":1147},{"s":"2777 s⁻¹","Re":24738,"p":1155},{"s":"2777 s⁻¹","Re":24975,"p":1163},{"s":"2777 s⁻¹","Re":25212,"p":1168},{"s":"2777 s⁻¹","Re":25449,"p":1172},{"s":"2777 s⁻¹","Re":25686,"p":1176},{"s":"2777 s⁻¹","Re":25922,"p":1172},{"s":"2777 s⁻¹","Re":26159,"p":1163},{"s":"2777 s⁻¹","Re":26396,"p":1135},{"s":"2777 s⁻¹","Re":26554,"p":1123},{"s":"2777 s⁻¹","Re":26712,"p":1110},{"s":"2777 s⁻¹","Re":26791,"p":1070},{"s":"2777 s⁻¹","Re":26910,"p":1029},{"s":"2777 s⁻¹","Re":27028,"p":980},{"s":"2777 s⁻¹","Re":27147,"p":923},{"s":"2777 s⁻¹","Re":27265,"p":865},{"s":"2777 s⁻¹","Re":27384,"p":808},{"s":"2777 s⁻¹","Re":27502,"p":767},{"s":"2777 s⁻¹","Re":27581,"p":735},{"s":"2777 s⁻¹","Re":27660,"p":694},{"s":"2777 s⁻¹","Re":27779,"p":620},{"s":"2777 s⁻¹","Re":27897,"p":547},{"s":"2777 s⁻¹","Re":28015,"p":473},{"s":"2777 s⁻¹","Re":28094,"p":400},{"s":"2777 s⁻¹","Re":28173,"p":343},{"s":"2777 s⁻¹","Re":28371,"p":335},{"s":"2777 s⁻¹","Re":28608,"p":327},{"s":"2777 s⁻¹","Re":28845,"p":318},{"s":"2777 s⁻¹","Re":28963,"p":269},{"s":"2777 s⁻¹","Re":29042,"p":229},{"s":"2777 s⁻¹","Re":29121,"p":188},{"s":"2777 s⁻¹","Re":29318,"p":188},{"s":"2777 s⁻¹","Re":29556,"p":188},{"s":"2777 s⁻¹","Re":29792,"p":196},{"s":"2777 s⁻¹","Re":30000,"p":204},
      {"s":"3764 s⁻¹","Re":18007,"p":90},{"s":"3764 s⁻¹","Re":18330,"p":90},{"s":"3764 s⁻¹","Re":18646,"p":94},{"s":"3764 s⁻¹","Re":18882,"p":102},{"s":"3764 s⁻¹","Re":19079,"p":122},{"s":"3764 s⁻¹","Re":19237,"p":139},{"s":"3764 s⁻¹","Re":19434,"p":155},{"s":"3764 s⁻¹","Re":19592,"p":171},{"s":"3764 s⁻¹","Re":19749,"p":196},{"s":"3764 s⁻¹","Re":19907,"p":216},{"s":"3764 s⁻¹","Re":20065,"p":253},{"s":"3764 s⁻¹","Re":20222,"p":286},{"s":"3764 s⁻¹","Re":20380,"p":327},{"s":"3764 s⁻¹","Re":20538,"p":375},{"s":"3764 s⁻¹","Re":20695,"p":424},{"s":"3764 s⁻¹","Re":20853,"p":473},{"s":"3764 s⁻¹","Re":21011,"p":514},{"s":"3764 s⁻¹","Re":21168,"p":547},{"s":"3764 s⁻¹","Re":21326,"p":588},{"s":"3764 s⁻¹","Re":21484,"p":629},{"s":"3764 s⁻¹","Re":21641,"p":669},{"s":"3764 s⁻¹","Re":21799,"p":702},{"s":"3764 s⁻¹","Re":21957,"p":735},{"s":"3764 s⁻¹","Re":22114,"p":784},{"s":"3764 s⁻¹","Re":22272,"p":825},{"s":"3764 s⁻¹","Re":22430,"p":857},{"s":"3764 s⁻¹","Re":22587,"p":882},{"s":"3764 s⁻¹","Re":22745,"p":906},{"s":"3764 s⁻¹","Re":22903,"p":939},{"s":"3764 s⁻¹","Re":23061,"p":963},{"s":"3764 s⁻¹","Re":23218,"p":984},{"s":"3764 s⁻¹","Re":23376,"p":1004},{"s":"3764 s⁻¹","Re":23533,"p":1021},{"s":"3764 s⁻¹","Re":23691,"p":1045},{"s":"3764 s⁻¹","Re":23849,"p":1061},{"s":"3764 s⁻¹","Re":24027,"p":1078},{"s":"3764 s⁻¹","Re":24264,"p":1102},{"s":"3764 s⁻¹","Re":24501,"p":1123},{"s":"3764 s⁻¹","Re":24738,"p":1135},{"s":"3764 s⁻¹","Re":24975,"p":1151},{"s":"3764 s⁻¹","Re":25212,"p":1172},{"s":"3764 s⁻¹","Re":25370,"p":1176},{"s":"3764 s⁻¹","Re":25607,"p":1168},{"s":"3764 s⁻¹","Re":25844,"p":1168},{"s":"3764 s⁻¹","Re":26002,"p":1163},{"s":"3764 s⁻¹","Re":26159,"p":1151},{"s":"3764 s⁻¹","Re":26317,"p":1135},{"s":"3764 s⁻¹","Re":26475,"p":1110},{"s":"3764 s⁻¹","Re":26633,"p":1086},{"s":"3764 s⁻¹","Re":26791,"p":1070},{"s":"3764 s⁻¹","Re":26949,"p":1053},{"s":"3764 s⁻¹","Re":27068,"p":1037},{"s":"3764 s⁻¹","Re":27186,"p":1004},{"s":"3764 s⁻¹","Re":27344,"p":955},{"s":"3764 s⁻¹","Re":27502,"p":914},{"s":"3764 s⁻¹","Re":27660,"p":874},{"s":"3764 s⁻¹","Re":27818,"p":816},{"s":"3764 s⁻¹","Re":27976,"p":776},{"s":"3764 s⁻¹","Re":28134,"p":727},{"s":"3764 s⁻¹","Re":28292,"p":669},{"s":"3764 s⁻¹","Re":28450,"p":612},{"s":"3764 s⁻¹","Re":28608,"p":547},{"s":"3764 s⁻¹","Re":28766,"p":482},{"s":"3764 s⁻¹","Re":28924,"p":449},{"s":"3764 s⁻¹","Re":29042,"p":433},{"s":"3764 s⁻¹","Re":29121,"p":384},{"s":"3764 s⁻¹","Re":29200,"p":335},{"s":"3764 s⁻¹","Re":29318,"p":294},{"s":"3764 s⁻¹","Re":29437,"p":245},{"s":"3764 s⁻¹","Re":29634,"p":233},{"s":"3764 s⁻¹","Re":29831,"p":216},{"s":"3764 s⁻¹","Re":30000,"p":212},
      {"s":"6234 s⁻¹","Re":18007,"p":57},{"s":"6234 s⁻¹","Re":18330,"p":61},{"s":"6234 s⁻¹","Re":18724,"p":64},{"s":"6234 s⁻¹","Re":19000,"p":67},{"s":"6234 s⁻¹","Re":19237,"p":77},{"s":"6234 s⁻¹","Re":19513,"p":86},{"s":"6234 s⁻¹","Re":19789,"p":102},{"s":"6234 s⁻¹","Re":19986,"p":122},{"s":"6234 s⁻¹","Re":20222,"p":151},{"s":"6234 s⁻¹","Re":20341,"p":175},{"s":"6234 s⁻¹","Re":20498,"p":220},{"s":"6234 s⁻¹","Re":20695,"p":278},{"s":"6234 s⁻¹","Re":20932,"p":343},{"s":"6234 s⁻¹","Re":21129,"p":375},{"s":"6234 s⁻¹","Re":21326,"p":433},{"s":"6234 s⁻¹","Re":21484,"p":449},{"s":"6234 s⁻¹","Re":21681,"p":498},{"s":"6234 s⁻¹","Re":21878,"p":547},{"s":"6234 s⁻¹","Re":22075,"p":588},{"s":"6234 s⁻¹","Re":22272,"p":629},{"s":"6234 s⁻¹","Re":22469,"p":661},{"s":"6234 s⁻¹","Re":22666,"p":690},{"s":"6234 s⁻¹","Re":22864,"p":722},{"s":"6234 s⁻¹","Re":23061,"p":755},{"s":"6234 s⁻¹","Re":23258,"p":784},{"s":"6234 s⁻¹","Re":23455,"p":812},{"s":"6234 s⁻¹","Re":23652,"p":845},{"s":"6234 s⁻¹","Re":23849,"p":874},{"s":"6234 s⁻¹","Re":24027,"p":902},{"s":"6234 s⁻¹","Re":24264,"p":931},{"s":"6234 s⁻¹","Re":24501,"p":963},{"s":"6234 s⁻¹","Re":24738,"p":988},{"s":"6234 s⁻¹","Re":24975,"p":1008},{"s":"6234 s⁻¹","Re":25212,"p":1033},{"s":"6234 s⁻¹","Re":25409,"p":1045},{"s":"6234 s⁻¹","Re":25686,"p":1049},{"s":"6234 s⁻¹","Re":25844,"p":1045},{"s":"6234 s⁻¹","Re":26080,"p":1029},{"s":"6234 s⁻¹","Re":26238,"p":1016},{"s":"6234 s⁻¹","Re":26475,"p":996},{"s":"6234 s⁻¹","Re":26712,"p":967},{"s":"6234 s⁻¹","Re":26870,"p":947},{"s":"6234 s⁻¹","Re":27107,"p":923},{"s":"6234 s⁻¹","Re":27344,"p":902},{"s":"6234 s⁻¹","Re":27581,"p":874},{"s":"6234 s⁻¹","Re":27818,"p":849},{"s":"6234 s⁻¹","Re":28055,"p":812},{"s":"6234 s⁻¹","Re":28292,"p":776},{"s":"6234 s⁻¹","Re":28529,"p":735},{"s":"6234 s⁻¹","Re":28766,"p":686},{"s":"6234 s⁻¹","Re":29003,"p":641},{"s":"6234 s⁻¹","Re":29239,"p":596},{"s":"6234 s⁻¹","Re":29477,"p":539},{"s":"6234 s⁻¹","Re":29713,"p":490},{"s":"6234 s⁻¹","Re":30000,"p":441}
    ],
    "va": [
      {"s":"6234 s⁻¹","Re":20070},{"s":"2283 s⁻¹","Re":20557},{"s":"1542 s⁻¹","Re":20640},{"s":"2777 s⁻¹","Re":20923},{"s":"3764 s⁻¹","Re":21050}
    ],
    "vb": [
      {"s":"2777 s⁻¹","Re":20242},{"s":"1542 s⁻¹","Re":20447},{"s":"2283 s⁻¹","Re":20563},{"s":"3764 s⁻¹","Re":21042},{"s":"6234 s⁻¹","Re":21377}
    ]
  },
  "resolve": {"scale": {"color": "independent", "strokeDash": "independent"}},
  "vconcat": [
    {
      "width": 1320,
      "height": 779,
      "resolve": {"axis": {"x": "independent", "y": "independent"}},
      "layer": [
        {
          "data": {"name": "a"},
          "mark": {"type": "line", "strokeWidth": 7.5, "clip": true},
          "encoding": {
            "x": {"field": "Re", "type": "quantitative", "scale": {"domain": [18000, 30000], "nice": false}, "axis": null},
            "y": {"field": "p", "type": "quantitative", "scale": {"domain": [0, 1250], "nice": false},
              "axis": {"values": [0, 400, 800, 1200], "title": "p′ᵣₘₛ\u00a0\u00a0\u00a0\u00a0(Pa)", "titleFontSize": 70, "titleY": 363, "labelPadding": 38, "titlePadding": 16}},
            "color": {"field": "s", "type": "nominal",
              "scale": {"domain": ["1542 s⁻¹", "2283 s⁻¹", "2777 s⁻¹", "3764 s⁻¹", "6234 s⁻¹"], "range": ["#0000F5", "#AAEBFE", "#00BFBF", "#B9D4F2", "#9B9BFA"]},
              "legend": {"title": null, "orient": "none", "legendX": -1, "legendY": -5, "labelExpr": "replace(datum.label, ' s', '\u2002s\u200a')"}},
            "strokeDash": {"field": "s", "type": "nominal",
              "scale": {"domain": ["1542 s⁻¹", "2283 s⁻¹", "2777 s⁻¹", "3764 s⁻¹", "6234 s⁻¹"], "range": [[32, 32], [1, 0], [32, 8, 16, 8], [1, 0], [1, 0]]},
              "legend": {"title": null, "orient": "none", "legendX": -1, "legendY": -5, "labelExpr": "replace(datum.label, ' s', '\u2002s\u200a')"}}
          }
        },
        {
          "data": {"name": "va"},
          "mark": {"type": "rule", "strokeWidth": 7, "strokeDash": [9, 7]},
          "encoding": {
            "x": {"field": "Re", "type": "quantitative", "scale": {"domain": [18000, 30000], "nice": false}, "axis": null},
            "y": {"datum": 0, "type": "quantitative", "axis": {"orient": "right", "labels": false, "title": null, "values": [0, 400, 800, 1200]}},
            "y2": {"datum": 1250},
            "stroke": {"field": "s", "type": "nominal", "legend": null,
              "scale": {"domain": ["1542 s⁻¹", "2283 s⁻¹", "2777 s⁻¹", "3764 s⁻¹", "6234 s⁻¹"], "range": ["#0000F5", "#AAEBFE", "#00BFBF", "#B9D4F2", "#9B9BFA"]}}
          }
        },
        {
          "data": {"values": [{"panel": "(a)"}]},
          "mark": {"type": "text", "align": "right", "baseline": "middle", "font": "Liberation Serif", "fontStyle": "italic", "fontSize": 56, "color": "black"},
          "encoding": {
            "x": {"datum": 29880, "type": "quantitative", "axis": null},
            "y": {"datum": 1170, "type": "quantitative", "axis": null},
            "text": {"field": "panel"}
          }
        }
      ]
    },
    {
      "width": 1320,
      "height": 786,
      "title": {"text": "×10⁴", "orient": "bottom", "anchor": "end", "frame": "group", "font": "Liberation Sans", "fontSize": 54, "fontWeight": "normal", "color": "#262626", "offset": -78},
      "resolve": {"axis": {"x": "independent", "y": "independent"}},
      "layer": [
        {
          "data": {"name": "b"},
          "mark": {"type": "line", "strokeWidth": 7.5, "clip": true},
          "encoding": {
            "x": {"field": "Re", "type": "quantitative", "scale": {"domain": [18000, 30000], "nice": false},
              "axis": {"values": [18000, 21000, 24000, 27000, 30000], "labelExpr": "datum.value / 10000", "labelPadding": 39, "title": "Re", "titleFontSize": 62, "titlePadding": 36}},
            "y": {"field": "p", "type": "quantitative", "scale": {"domain": [0, 1250], "nice": false},
              "axis": {"values": [0, 400, 800, 1200], "title": "p′ᵣₘₛ\u00a0\u00a0\u00a0\u00a0(Pa)", "titleFontSize": 70, "titleY": 367, "labelPadding": 38, "titlePadding": 16}},
            "color": {"field": "s", "type": "nominal", "legend": null,
              "scale": {"domain": ["1542 s⁻¹", "2283 s⁻¹", "2777 s⁻¹", "3764 s⁻¹", "6234 s⁻¹"], "range": ["#0000F5", "#AAEBFE", "#00BFBF", "#B9D4F2", "#9B9BFA"]}},
            "strokeDash": {"field": "s", "type": "nominal", "legend": null,
              "scale": {"domain": ["1542 s⁻¹", "2283 s⁻¹", "2777 s⁻¹", "3764 s⁻¹", "6234 s⁻¹"], "range": [[32, 32], [1, 0], [32, 8, 16, 8], [1, 0], [1, 0]]}}
          }
        },
        {
          "data": {"name": "vb"},
          "mark": {"type": "rule", "strokeWidth": 7, "strokeDash": [9, 7]},
          "encoding": {
            "x": {"field": "Re", "type": "quantitative", "scale": {"domain": [18000, 30000], "nice": false},
              "axis": {"orient": "top", "labels": false, "title": null, "values": [18000, 21000, 24000, 27000, 30000]}},
            "y": {"datum": 0, "type": "quantitative", "axis": {"orient": "right", "labels": false, "title": null, "values": [0, 400, 800, 1200]}},
            "y2": {"datum": 1250},
            "stroke": {"field": "s", "type": "nominal", "legend": null,
              "scale": {"domain": ["1542 s⁻¹", "2283 s⁻¹", "2777 s⁻¹", "3764 s⁻¹", "6234 s⁻¹"], "range": ["#0000F5", "#AAEBFE", "#00BFBF", "#B9D4F2", "#9B9BFA"]}}
          }
        },
        {
          "data": {"values": [{"panel": "(b)"}]},
          "mark": {"type": "text", "align": "right", "baseline": "middle", "font": "Liberation Serif", "fontStyle": "italic", "fontSize": 56, "color": "black"},
          "encoding": {
            "x": {"datum": 29820, "type": "quantitative", "axis": null},
            "y": {"datum": 1165, "type": "quantitative", "axis": null},
            "text": {"field": "panel"}
          }
        }
      ]
    }
  ]
}
